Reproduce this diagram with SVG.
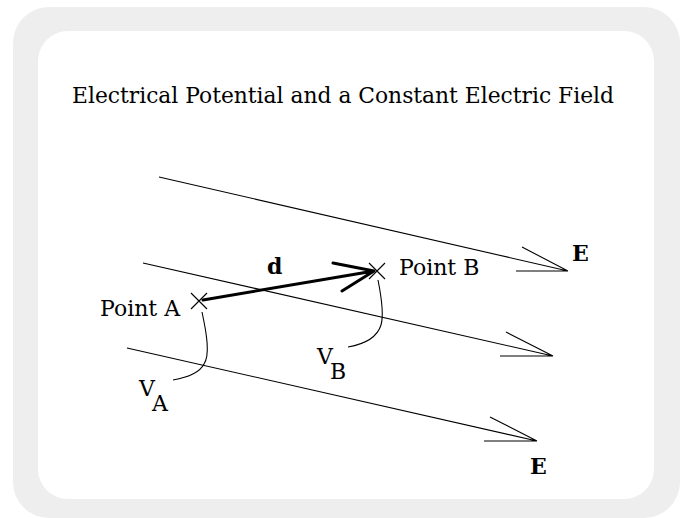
<svg xmlns="http://www.w3.org/2000/svg" width="680" height="518" viewBox="0 0 680 518">
<style>
.t{font-family:"DejaVu Serif","Liberation Serif",serif;font-size:22px;fill:#000}
.b{font-weight:bold}
.f{fill:none;stroke:#000;stroke-width:1.1}
.v{fill:none;stroke:#000;stroke-width:3;stroke-linecap:round}
</style>
<rect x="13" y="7" width="667" height="511" rx="36" fill="#eeeeee"/>
<rect x="38" y="31" width="616" height="468" rx="30" fill="#ffffff"/>
<text class="t" x="72" y="103" style="font-size:21.8px">Electrical Potential and a Constant Electric Field</text>
<g id="connectors">
<g id="field1"><path class="f" d="M159,177 L568,271 M516,271 L568,271 M522,247 L568,271"/></g>
<g id="field2"><path class="f" d="M143,263 L553,356 M500,356 L553,356 M506,332 L553,356"/></g>
<g id="field3"><path class="f" d="M127,348 L537,441 M484,441 L537,441 M490,417 L537,441"/></g>
<g id="vector-d"><path class="v" d="M203,300 L374,271 M333,263 L374,271 M342,291 L374,271"/></g>
<path class="f" d="M202,312 C207,335 210,355 204,364 C200,372 190,377 173,380"/>
<path class="f" d="M378,280 C382,300 384,315 381,325 C377,338 365,344 348,347"/>
</g>
<g id="pointA"><path class="f" d="M191,293 L207,309 M207,293 L191,309"/><text class="t" x="100" y="316">Point A</text></g>
<g id="pointB"><path class="f" d="M369,263 L385,279 M385,263 L369,279"/><text class="t" x="399" y="275">Point B</text></g>
<text class="t b" x="267" y="274">d</text>
<text class="t b" x="572" y="261">E</text>
<text class="t b" x="530" y="474">E</text>
<text class="t" x="139" y="396">V</text>
<text class="t" x="152" y="411">A</text>
<text class="t" x="317" y="364">V</text>
<text class="t" x="330" y="379">B</text>
</svg>
